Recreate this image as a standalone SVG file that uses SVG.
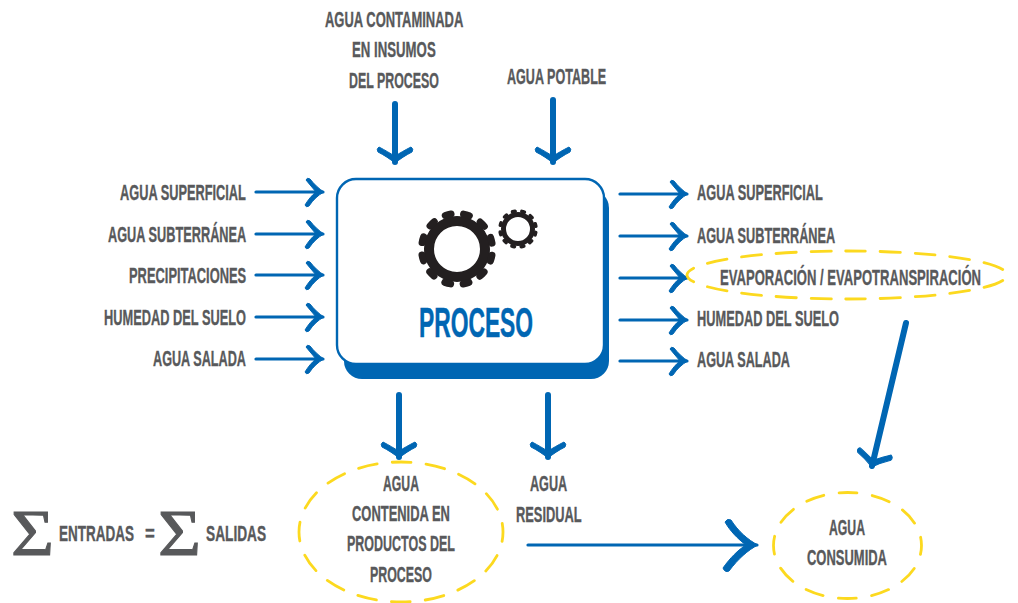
<svg xmlns="http://www.w3.org/2000/svg" width="1018" height="603" viewBox="0 0 1018 603">
<style>
.t{font-family:"Liberation Sans",Arial,sans-serif;font-weight:700;font-size:21.5px;fill:#58595b;stroke:#58595b;stroke-width:.35}
.p{font-family:"Liberation Sans",Arial,sans-serif;font-weight:700;font-size:42px;fill:#0066b3;stroke:#0066b3;stroke-width:.5}
.s{font-family:"Liberation Serif",serif;font-size:66px;fill:#58595b;stroke:#58595b;stroke-width:1}
.c{fill:none;stroke:#0066b3;stroke-width:3.2;stroke-linecap:round}
.d{fill:none;stroke:#0066b3;stroke-width:6;stroke-linecap:round}
.y{fill:none;stroke:#fcd91f;stroke-width:2.8;stroke-linecap:round}
.m{fill:#0066b3;stroke:#0066b3;stroke-width:1}
</style>
<defs>
<marker id="h" markerUnits="userSpaceOnUse" viewBox="-22 -18 24 36" refX="-1" refY="0" markerWidth="24" markerHeight="36" orient="auto"><path class="m" d="M-18-12Q-17-15-14-13C-10-8-5-3 0 0C-6 3-11 8-15 14Q-18 16-19 13C-16 8-12 3-8 0C-11-4-15-8-18-12Z"/></marker>
<marker id="b" markerUnits="userSpaceOnUse" viewBox="-34 -28 36 56" refX="-1" refY="0" markerWidth="36" markerHeight="56" orient="auto"><path class="m" d="M-16-16Q-14-19-11-17C-8-11-4-5 0 0C-4 5-8 11-11 17Q-14 19-16 16C-13 10-9 4-7 0C-10-5-13-10-16-16Z"/></marker>
<marker id="l" markerUnits="userSpaceOnUse" viewBox="-36 -30 38 60" refX="-1" refY="0" markerWidth="38" markerHeight="60" orient="auto"><path class="m" d="M-33-23Q-31-27-27-25C-20-14-10-5 0 0C-10 5-20 14-29 26Q-33 28-35 23C-28 13-20 5-12 0C-20-6-28-14-33-23Z"/></marker>
</defs>
<g id="connectors">
<path class="c" marker-end="url(#h)" d="M256 192H323"/>
<path class="c" marker-end="url(#h)" d="M256 234H323"/>
<path class="c" marker-end="url(#h)" d="M256 275H323"/>
<path class="c" marker-end="url(#h)" d="M256 317H323"/>
<path class="c" marker-end="url(#h)" d="M256 359H323"/>
<path class="c" marker-end="url(#h)" d="M620 194H687"/>
<path class="c" marker-end="url(#h)" d="M620 236H687"/>
<path class="c" marker-end="url(#h)" d="M620 278H687"/>
<path class="c" marker-end="url(#h)" d="M620 320H687"/>
<path class="c" marker-end="url(#h)" d="M620 361H687"/>
<path class="d" marker-end="url(#b)" d="M395 104V162"/>
<path class="d" marker-end="url(#b)" d="M553 100V162"/>
<path class="d" marker-end="url(#b)" d="M399 395V457"/>
<path class="d" marker-end="url(#b)" d="M548 395V457"/>
<path class="d" marker-end="url(#b)" d="M906 323L872 466"/>
<path class="c" marker-end="url(#l)" d="M528 545H757"/>
</g>
<g id="proceso">
<rect x="344" y="190" width="265" height="189" rx="18" fill="#0066b3"/>
<rect x="337" y="179" width="267" height="185" rx="19" fill="#fff" stroke="#0066b3" stroke-width="2.4"/>
<g id="gear-large" fill="none" stroke="#231f20">
<circle cx="457" cy="249" r="28" stroke-width="10"/>
<circle cx="457" cy="249" r="35.5" stroke-width="7" stroke-linecap="round" stroke-dasharray="6 12.59" transform="rotate(10.2 457 249)"/>
</g>
<g id="gear-small" fill="none" stroke="#231f20">
<circle cx="518" cy="229" r="14.5" stroke-width="5"/>
<circle cx="518" cy="229" r="18" stroke-width="3.6" stroke-linecap="round" stroke-dasharray="2.6 6.82" transform="rotate(10.9 518 229)"/>
</g>
<text class="p" transform="matrix(.62 0 0 1 419 337)" textLength="184" lengthAdjust="spacingAndGlyphs">PROCESO</text>
</g>
<g id="inputs">
<text class="t" transform="matrix(.62 0 0 1 120 200)" textLength="203" lengthAdjust="spacingAndGlyphs">AGUA SUPERFICIAL</text>
<text class="t" transform="matrix(.62 0 0 1 108 242)" textLength="223" lengthAdjust="spacingAndGlyphs">AGUA SUBTERRÁNEA</text>
<text class="t" transform="matrix(.62 0 0 1 129 283)" textLength="189" lengthAdjust="spacingAndGlyphs">PRECIPITACIONES</text>
<text class="t" transform="matrix(.62 0 0 1 104 325)" textLength="229" lengthAdjust="spacingAndGlyphs">HUMEDAD DEL SUELO</text>
<text class="t" transform="matrix(.62 0 0 1 153 366)" textLength="150" lengthAdjust="spacingAndGlyphs">AGUA SALADA</text>
<text class="t" transform="matrix(.62 0 0 1 325 27)" textLength="223" lengthAdjust="spacingAndGlyphs">AGUA CONTAMINADA</text>
<text class="t" transform="matrix(.62 0 0 1 352 57)" textLength="135" lengthAdjust="spacingAndGlyphs">EN INSUMOS</text>
<text class="t" transform="matrix(.62 0 0 1 349 88)" textLength="145" lengthAdjust="spacingAndGlyphs">DEL PROCESO</text>
<text class="t" transform="matrix(.62 0 0 1 507 84)" textLength="160" lengthAdjust="spacingAndGlyphs">AGUA POTABLE</text>
</g>
<g id="outputs">
<text class="t" transform="matrix(.62 0 0 1 697 200)" textLength="203" lengthAdjust="spacingAndGlyphs">AGUA SUPERFICIAL</text>
<text class="t" transform="matrix(.62 0 0 1 697 243)" textLength="223" lengthAdjust="spacingAndGlyphs">AGUA SUBTERRÁNEA</text>
<text class="t" transform="matrix(.62 0 0 1 697 326)" textLength="229" lengthAdjust="spacingAndGlyphs">HUMEDAD DEL SUELO</text>
<text class="t" transform="matrix(.62 0 0 1 697 367)" textLength="150" lengthAdjust="spacingAndGlyphs">AGUA SALADA</text>
</g>
<g id="evaporacion">
<ellipse class="y" cx="847" cy="275" rx="160" ry="24" stroke-dasharray="20 14.73" stroke-dashoffset="-7.36"/>
<text class="t" transform="matrix(.62 0 0 1 720 285)" textLength="421" lengthAdjust="spacingAndGlyphs">EVAPORACIÓN / EVAPOTRANSPIRACIÓN</text>
</g>
<g id="contenida">
<ellipse class="y" cx="401" cy="532" rx="102" ry="70" stroke-dasharray="19 15.06" stroke-dashoffset="9.5"/>
<text class="t" transform="matrix(.62 0 0 1 383 491)" textLength="58" lengthAdjust="spacingAndGlyphs">AGUA</text>
<text class="t" transform="matrix(.62 0 0 1 352 521)" textLength="158" lengthAdjust="spacingAndGlyphs">CONTENIDA EN</text>
<text class="t" transform="matrix(.62 0 0 1 347 551)" textLength="174" lengthAdjust="spacingAndGlyphs">PRODUCTOS DEL</text>
<text class="t" transform="matrix(.62 0 0 1 370 582)" textLength="100" lengthAdjust="spacingAndGlyphs">PROCESO</text>
</g>
<g id="residual">
<text class="t" transform="matrix(.62 0 0 1 530 491)" textLength="60" lengthAdjust="spacingAndGlyphs">AGUA</text>
<text class="t" transform="matrix(.62 0 0 1 516 522)" textLength="106" lengthAdjust="spacingAndGlyphs">RESIDUAL</text>
</g>
<g id="consumida">
<ellipse class="y" cx="847.5" cy="545.5" rx="74" ry="53" stroke-dasharray="18 15.48" stroke-dashoffset="9"/>
<text class="t" transform="matrix(.62 0 0 1 829 535)" textLength="58" lengthAdjust="spacingAndGlyphs">AGUA</text>
<text class="t" transform="matrix(.62 0 0 1 807 565)" textLength="129" lengthAdjust="spacingAndGlyphs">CONSUMIDA</text>
</g>
<g id="balance">
<text class="s" transform="matrix(1.12 0 0 1 11 555)">Σ</text>
<text class="t" transform="matrix(.62 0 0 1 59 541)" textLength="121" lengthAdjust="spacingAndGlyphs">ENTRADAS</text>
<text class="t" transform="matrix(.7 0 0 1 145 541)" textLength="14" lengthAdjust="spacingAndGlyphs">=</text>
<text class="s" transform="matrix(1.12 0 0 1 158 555)">Σ</text>
<text class="t" transform="matrix(.62 0 0 1 206 541)" textLength="97" lengthAdjust="spacingAndGlyphs">SALIDAS</text>
</g>
</svg>
